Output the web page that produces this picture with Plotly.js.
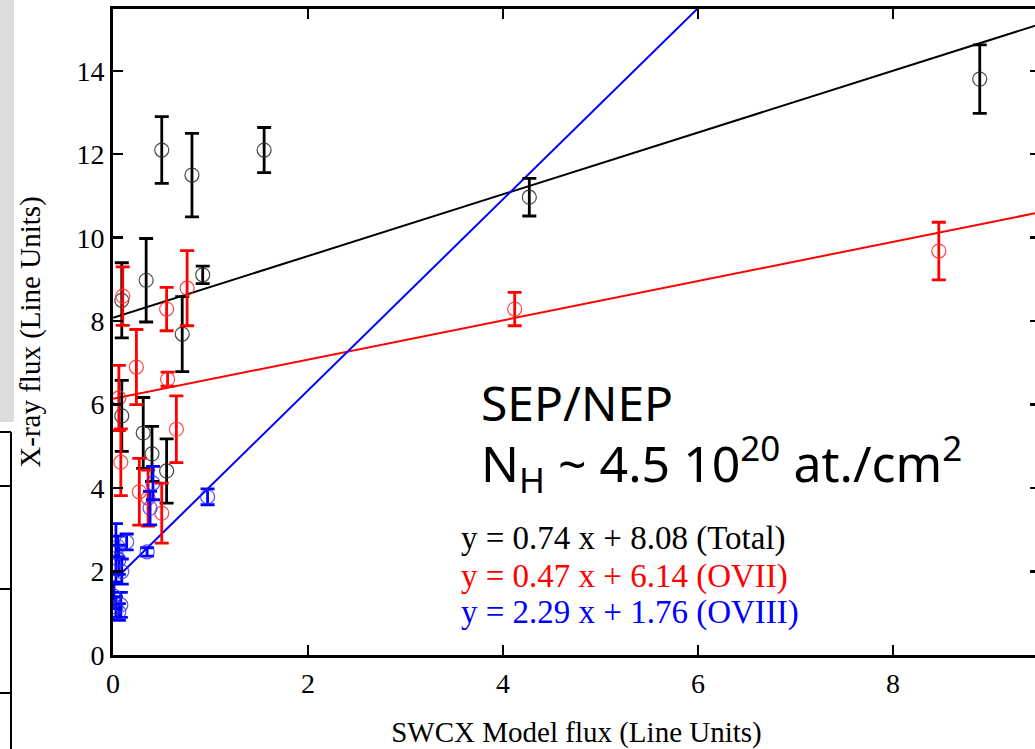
<!DOCTYPE html>
<html>
<head>
<meta charset="utf-8">
<script src="https://cdn.plot.ly/plotly-3.0.1.min.js"></script>
<style>
html,body{margin:0;padding:0;overflow:hidden;background:#fff;}
#chart{width:1045px;height:749px;}
</style>
</head>
<body>
<div id="chart"></div>
<script>
// ---- data ----
const totalX   = [8.89, 4.27, 0.50, 0.81, 1.55, 0.92, 0.34, 0.09, 0.71, 0.09, 0.31, 0.40, 0.55];
const totalY   = [13.80, 10.97, 12.10, 11.50, 12.10, 9.11, 8.98, 8.50, 7.69, 5.73, 5.32, 4.82, 4.41];
const totalErr = [0.82, 0.45, 0.80, 1.00, 0.54, 0.21, 1.00, 0.90, 0.90, 0.85, 0.85, 0.66, 0.77];

const oviiX   = [8.47, 4.12, 0.10, 0.55, 0.76, 0.24, 0.56, 0.06, 0.65, 0.08, 0.27, 0.36, 0.50];
const oviiY   = [9.68, 8.29, 8.60, 8.29, 8.79, 6.90, 6.61, 6.16, 5.41, 4.62, 3.91, 3.76, 3.40];
const oviiErr = [0.69, 0.40, 0.70, 0.52, 0.90, 0.90, 0.17, 0.78, 0.80, 0.80, 0.80, 0.67, 0.72];

const oviiiX   = [0.97, 0.35, 0.41, 0.38, 0.14, 0.03, 0.06, 0.09, 0.05, 0.01, 0.03, 0.06, 0.08];
const oviiiY   = [3.79, 2.47, 4.12, 3.52, 2.71, 2.45, 2.28, 2.00, 2.60, 1.41, 1.15, 1.03, 1.20];
const oviiiErr = [0.19, 0.10, 0.40, 0.40, 0.19, 0.70, 0.35, 0.30, 0.25, 0.30, 0.25, 0.20, 0.30];

// fit lines: [slope, intercept], drawn over an x span
const fitTotal = [0.74, 8.08];
const fitOVII  = [0.47, 6.14];
const fitOVIII = [2.29, 1.76];
const fitTotalSpan = [0, 9.6];
const fitOVIISpan  = [0, 9.6];
const fitOVIIISpan = [0.05, 6.2];

const xTicks = [0, 2, 4, 6, 8];
const yTicks = [0, 2, 4, 6, 8, 10, 12, 14];

const eqLabels = [
  'y = 0.74 x + 8.08 (Total)',
  'y = 0.47 x + 6.14 (OVII)',
  'y = 2.29 x + 1.76 (OVIII)'
];
const titleLine1 = 'SEP/NEP';
const titleLine2 = 'N<sub>H</sub> ~ 4.5 10<sup>20</sup> at./cm<sup>2</sup>';
const xTitle = 'SWCX Model flux (Line Units)';
const yTitle = 'X-ray flux (Line Units)';

// ---- build ----
function lineFrom(fit, span, color) {
  return {
    x: span.slice(),
    y: span.map(v => fit[0] * v + fit[1]),
    mode: 'lines', type: 'scatter',
    line: {color: color, width: 2},
    hoverinfo: 'skip', showlegend: false
  };
}
function pts(x, y, e, barColor, markColor) {
  return {
    x: x, y: y, type: 'scatter', mode: 'markers', showlegend: false,
    marker: {symbol: 'circle-open', size: 14, color: markColor, line: {width: 1.2, color: markColor}},
    error_y: {type: 'data', array: e, visible: true, color: barColor, thickness: 2.8, width: 7}
  };
}

const traces = [
  lineFrom(fitTotal, fitTotalSpan, '#000000'),
  lineFrom(fitOVII, fitOVIISpan, '#ff0000'),
  lineFrom(fitOVIII, fitOVIIISpan, '#0000ff'),
  pts(totalX, totalY, totalErr, '#000000', 'rgba(40,40,40,0.85)'),
  pts(oviiX, oviiY, oviiErr, '#ff0000', 'rgba(255,40,40,0.85)'),
  pts(oviiiX, oviiiY, oviiiErr, '#0000ff', 'rgba(40,40,255,0.8)')
];

const serif = 'Liberation Serif, Times New Roman, serif';
const eqColors = ['#000000', '#ff0000', '#0000ff'];
const eqY = [2.78, 1.88, 1.01];

const annotations = [
  {x: 3.75, y: 6.05, xref: 'x', yref: 'y', xanchor: 'left', yanchor: 'middle', showarrow: false,
   text: titleLine1, font: {family: 'Noto Sans, sans-serif', size: 48, color: '#000'}},
  {x: 3.75, y: 4.6, xref: 'x', yref: 'y', xanchor: 'left', yanchor: 'middle', showarrow: false,
   text: titleLine2, font: {family: 'Noto Sans, sans-serif', size: 50, color: '#000'}}
];
eqLabels.forEach((t, i) => annotations.push({
  x: 3.55, y: eqY[i], xref: 'x', yref: 'y', xanchor: 'left', yanchor: 'middle', showarrow: false,
  text: t, font: {family: serif, size: 33, color: eqColors[i]}
}));

// decorative fragments at the left edge of the reference image
const px = p => (p - 113) / 927;
const py = p => (655 - p) / 646;
const shapes = [
  {type: 'rect', xref: 'paper', yref: 'paper', x0: px(0), x1: px(14), y0: py(422), y1: py(0),
   fillcolor: '#dcdcdc', line: {width: 0}, layer: 'below'},
  {type: 'line', xref: 'paper', yref: 'paper', x0: px(0), x1: px(11), y0: py(432), y1: py(432), line: {color: '#000', width: 2}},
  {type: 'line', xref: 'paper', yref: 'paper', x0: px(11), x1: px(11), y0: py(432), y1: py(749), line: {color: '#000', width: 2}},
  {type: 'line', xref: 'paper', yref: 'paper', x0: px(0), x1: px(11), y0: py(486), y1: py(486), line: {color: '#000', width: 2}},
  {type: 'line', xref: 'paper', yref: 'paper', x0: px(0), x1: px(11), y0: py(589), y1: py(589), line: {color: '#000', width: 2}},
  {type: 'line', xref: 'paper', yref: 'paper', x0: px(0), x1: px(11), y0: py(693), y1: py(693), line: {color: '#000', width: 2}}
];

const axisCommon = {
  showgrid: false, zeroline: false, showline: true, linecolor: '#000', linewidth: 3,
  mirror: 'ticks', ticks: 'inside', ticklen: 10, tickwidth: 2.5, tickcolor: '#000',
  tickfont: {family: serif, size: 28, color: '#000'}
};

const layout = {
  width: 1045, height: 749,
  margin: {l: 113, r: 5, t: 9, b: 94},
  paper_bgcolor: '#fff', plot_bgcolor: '#fff',
  showlegend: false,
  xaxis: Object.assign({}, axisCommon, {
    range: [0, 9.508], tickvals: xTicks, ticktext: xTicks.map(String),
    ticklabelstandoff: 1,
    title: {text: xTitle, font: {family: serif, size: 29, color: '#000'}, standoff: 26}
  }),
  yaxis: Object.assign({}, axisCommon, {
    range: [0, 15.48], tickvals: yTicks, ticktext: yTicks.map(String),
    title: {text: yTitle, font: {family: serif, size: 29, color: '#000'}, standoff: 28}
  }),
  annotations: annotations,
  shapes: shapes
};

Plotly.newPlot('chart', traces, layout, {staticPlot: true, displayModeBar: false});
</script>
</body>
</html>
